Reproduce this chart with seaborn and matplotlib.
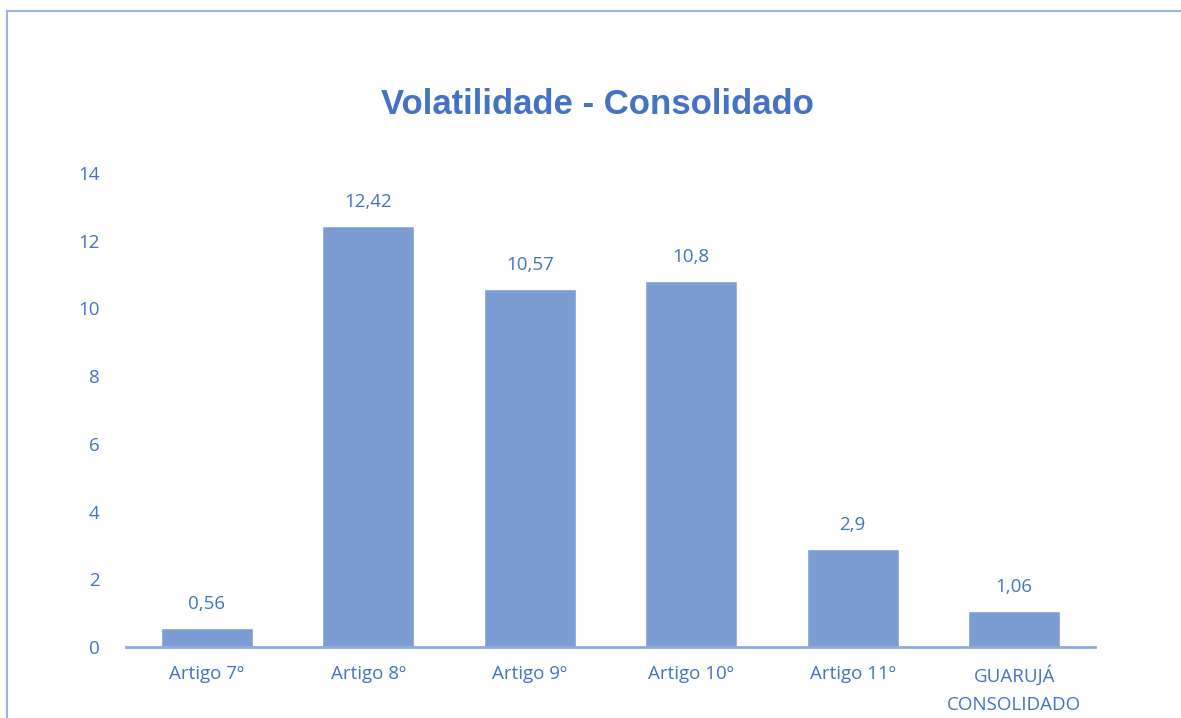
import matplotlib
matplotlib.use("Agg")
import matplotlib.pyplot as plt
import seaborn as sns
import pandas as pd
from matplotlib.patches import Rectangle

categories = ["Artigo 7º", "Artigo 8º", "Artigo 9º", "Artigo 10º", "Artigo 11º", "GUARUJÁ\nCONSOLIDADO"]
values = [0.56, 12.42, 10.57, 10.8, 2.9, 1.06]
value_labels = ["0,56", "12,42", "10,57", "10,8", "2,9", "1,06"]
yticks = [0, 2, 4, 6, 8, 10, 12, 14]

sns.set_theme(style="white")
plt.rcParams['font.family'] = ['Open Sans', 'DejaVu Sans']

text_color = "#4472C4"
bar_color = "#7B9DD4"

df = pd.DataFrame({"cat": categories, "val": values})

fig = plt.figure(figsize=(11.81, 7.18), dpi=100)
ax = fig.add_axes([126/1181, 1-647/718, 969/1181, (647-173)/718])

sns.barplot(data=df, x="cat", y="val", color=bar_color, width=0.57, saturation=1, ax=ax)

ax.set_xlim(-0.5, 5.5)
ax.set_ylim(0, 14)
ax.set_yticks(yticks)
ax.set_yticklabels([str(t) for t in yticks], color=text_color, fontsize=13.5)
ax.set_xticks(range(len(categories)))
ax.set_xticklabels(categories, color=text_color, fontsize=13.5)
ax.tick_params(axis="both", length=0)
ax.tick_params(axis="y", pad=19)
ax.tick_params(axis="x", pad=13)
for lbl in ax.get_xticklabels():
    lbl.set_linespacing(1.75)
ax.set_xlabel("")
ax.set_ylabel("")

for s in ["top", "right", "left"]:
    ax.spines[s].set_visible(False)
ax.spines["bottom"].set_color("#8EAADB")
ax.spines["bottom"].set_linewidth(2)

for i, (v, lab) in enumerate(zip(values, value_labels)):
    ax.annotate(lab, (i, v), xytext=(0, 11), textcoords="offset points",
                ha="center", va="bottom", color=text_color, fontsize=13.5)

fig.text(597/1181, 1-104/718, "Volatilidade - Consolidado", ha="center", va="center",
         fontsize=25, fontweight="bold", color=text_color, family="Liberation Sans")

# outer chart border
fig.patches.append(Rectangle((7/1181, -0.05), 1.2, 1-11/718+0.05, transform=fig.transFigure,
                             fill=False, edgecolor="#9AB4E0", linewidth=1.5))

fig.savefig("out.png", dpi=100)
